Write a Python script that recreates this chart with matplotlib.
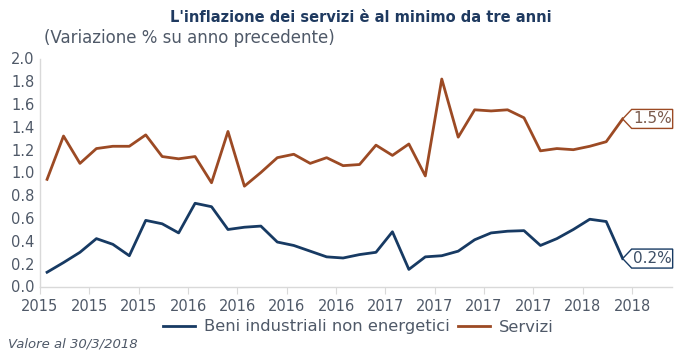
import matplotlib
matplotlib.use("Agg")
import matplotlib.pyplot as plt
import matplotlib.transforms as mtransforms
from matplotlib.patches import Polygon
import numpy as np

# Dati mensili (apr 2015 - mar 2018), variazione % su anno precedente
beni = [0.125, 0.21, 0.30, 0.42, 0.37, 0.27, 0.58, 0.55, 0.47, 0.73, 0.70, 0.50,
        0.52, 0.53, 0.39, 0.36, 0.31, 0.26, 0.25, 0.28, 0.30, 0.48, 0.15, 0.26,
        0.27, 0.31, 0.41, 0.47, 0.485, 0.49, 0.36, 0.42, 0.50, 0.59, 0.57, 0.245]
servizi = [0.94, 1.32, 1.08, 1.21, 1.23, 1.23, 1.33, 1.14, 1.12, 1.14, 0.91, 1.36,
           0.88, 1.00, 1.13, 1.16, 1.08, 1.13, 1.06, 1.07, 1.24, 1.15, 1.25, 0.97,
           1.82, 1.31, 1.55, 1.54, 1.55, 1.48, 1.19, 1.21, 1.20, 1.23, 1.27, 1.47]
tick_labels = ["2015", "2015", "2015", "2016", "2016", "2016", "2016",
               "2017", "2017", "2017", "2017", "2018", "2018"]
end_labels = ["0.2%", "1.5%"]

navy = "#173a63"
brown = "#9c4a24"
grey_txt = "#4f5968"

plt.rcParams['font.family'] = ['DejaVu Sans']

fig = plt.figure(figsize=(6.91, 3.62), dpi=100)
ax = fig.add_axes([40 / 691, 1 - 286.5 / 362, 632 / 691, 228 / 362])

x = np.arange(len(beni))
ax.plot(x, beni, color=navy, lw=2.0, label="Beni industriali non energetici")
ax.plot(x, servizi, color=brown, lw=2.0, label="Servizi")

ax.set_ylim(0, 2.0)
ax.set_yticks(np.arange(0, 2.01, 0.2))
ax.set_yticklabels([f"{v:.1f}" for v in np.arange(0, 2.01, 0.2)])
x0 = -0.43
ax.set_xlim(x0, 38.0)
ax.set_xticks([x0 + 3 * k for k in range(len(tick_labels))])
ax.set_xticklabels(tick_labels)

for s in ["top", "right"]:
    ax.spines[s].set_visible(False)
for s in ["left", "bottom"]:
    ax.spines[s].set_color("#d9d9d9")
    ax.spines[s].set_linewidth(1)
ax.tick_params(axis="y", length=0, labelsize=10.5, labelcolor=grey_txt, pad=4)
ax.tick_params(axis="x", length=5, color="#d9d9d9", labelsize=10.5, labelcolor=grey_txt, pad=4)

# etichette finali a forma di freccia
for serie, col, txt_col, lab in [(beni, navy, "#3d4f66", end_labels[0]),
                                 (servizi, brown, "#7a5a4c", end_labels[1])]:
    xl, yl = x[-1], serie[-1]
    tr = fig.dpi_scale_trans + mtransforms.ScaledTranslation(xl, yl, ax.transData)
    verts = [(0, 0), (0.09, 0.095), (0.50, 0.095), (0.50, -0.095), (0.09, -0.095)]
    poly = Polygon(verts, closed=True, transform=tr, facecolor="white",
                   edgecolor=col, lw=1.0, clip_on=False, zorder=5)
    ax.add_patch(poly)
    ax.text(0.30, 0.0, lab, transform=tr, ha="center", va="center",
            fontsize=11, color=txt_col, zorder=6)

fig.text(0.522, 1 - 18 / 362, "L'inflazione dei servizi è al minimo da tre anni",
         ha="center", va="center", fontsize=10.5, fontweight="bold", color="#1f3a60")
fig.text(44 / 691, 1 - 38 / 362, "(Variazione % su anno precedente)",
         ha="left", va="center", fontsize=12, color=grey_txt)

leg = fig.legend(loc="center", bbox_to_anchor=(358 / 691, 1 - 327 / 362), ncol=2,
                 frameon=False, fontsize=11.8, handlelength=2.0, columnspacing=0.5,
                 handletextpad=0.5, borderaxespad=0)
for t in leg.get_texts():
    t.set_color(grey_txt)

fig.text(8 / 691, 1 - 344 / 362, "Valore al 30/3/2018", ha="left", va="center",
         fontsize=9.5, style="italic", color=grey_txt)

fig.savefig("out.png", dpi=100)
